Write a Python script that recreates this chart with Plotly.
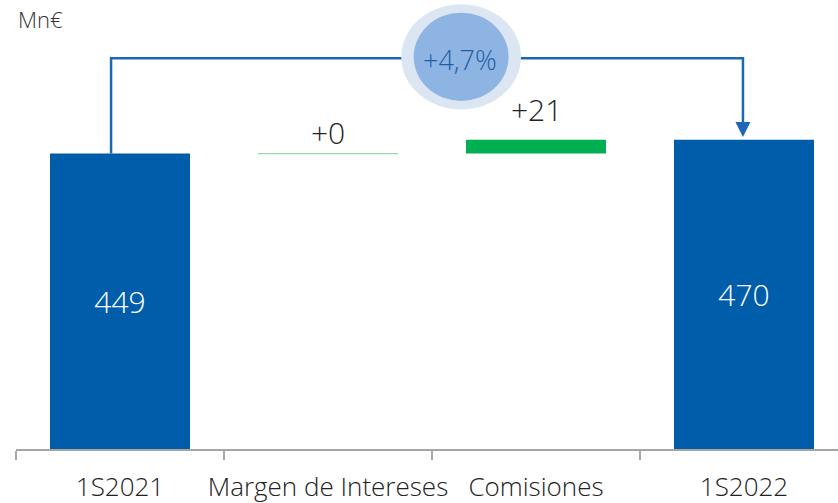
import plotly.graph_objects as go

# -----------------------------
# Data
# -----------------------------

CATEGORIES = ["1S2021", "Margen de Intereses", "Comisiones", "1S2022"]
VALUES = [449, 0, 21, 470]
BASES = [0, 449, 449, 0]
LABELS = ["449", "+0", "+21", "470"]
GROWTH_LABEL = "+4,7%"

# -----------------------------
# Theme
# -----------------------------

BLUE = "#005DAA"
LINE_BLUE = "#1D67B5"
GREEN = "#00B050"
LIGHT_GREEN = "#96D9B0"
TEXT = "#222222"
AXIS_GREY = "#A6A6A6"
FONT = "Open Sans"

PX_PER_UNIT = 0.658
PLOT_H = 449
Y_MAX = PLOT_H / PX_PER_UNIT
CAT_PX = 208
PLOT_L = 16

bar_colors = [BLUE, LIGHT_GREEN, GREEN, BLUE]

fig = go.Figure()

fig.add_trace(
    go.Bar(
        x=CATEGORIES,
        y=VALUES,
        base=BASES,
        marker=dict(color=bar_colors, line=dict(color=bar_colors, width=[0, 1.2, 0, 0])),
        text=[LABELS[0], "", "", LABELS[3]],
        textposition="inside",
        insidetextanchor="middle",
        textfont=dict(family=FONT, size=30, color="white", weight=300),
        hoverinfo="skip",
    )
)

# labels above the variation bars
for i in (1, 2):
    top = BASES[i] + VALUES[i]
    fig.add_annotation(
        x=i, y=top, text=LABELS[i], showarrow=False,
        yanchor="bottom", yshift=-1 if i == 1 else 8,
        font=dict(family=FONT, size=30, color=TEXT, weight=300),
    )

# connector from first to last bar
level = 594
x_start, x_end = -0.043, 2.995
arrow_tip = VALUES[3] + 4
head_len = 23
head_w = 0.036
fig.add_shape(
    type="path",
    path=(f"M {x_start},{VALUES[0] + BASES[0]} L {x_start},{level} "
          f"L {x_end},{level} L {x_end},{arrow_tip + head_len}"),
    line=dict(color=LINE_BLUE, width=2.5),
    xref="x", yref="y", layer="above",
)
fig.add_shape(
    type="path",
    path=(f"M {x_end - head_w},{arrow_tip + head_len} L {x_end + head_w},{arrow_tip + head_len} "
          f"L {x_end},{arrow_tip} Z"),
    line=dict(width=0), fillcolor=LINE_BLUE,
    xref="x", yref="y", layer="above",
)

# growth bubble
cx, cy = 1.64, 596
fig.add_shape(
    type="circle", x0=cx - 0.288, x1=cx + 0.288, y0=cy - 80, y1=cy + 80,
    fillcolor="#DCE6F2", line=dict(width=0), xref="x", yref="y", layer="above",
)
fig.add_shape(
    type="circle", x0=cx - 0.228, x1=cx + 0.228, y0=cy - 67, y1=cy + 67,
    fillcolor="#8EB4E3", line=dict(width=0), xref="x", yref="y", layer="above",
)
fig.add_annotation(
    x=cx - 0.005, y=cy - 4, text=GROWTH_LABEL, showarrow=False,
    font=dict(family=FONT, size=27, color="#1F5FA8", weight=300),
)

# units
fig.add_annotation(
    xref="paper", yref="paper", x=0.0, y=1.0, xanchor="left", yanchor="top",
    yshift=-2, text="Mn€", showarrow=False,
    font=dict(family=FONT, size=22, color="#333333", weight=300),
)

fig.update_layout(
    width=838,
    height=503,
    paper_bgcolor="white",
    plot_bgcolor="white",
    showlegend=False,
    bargap=0.327,
    margin=dict(l=PLOT_L, r=0, t=0, b=503 - PLOT_H, autoexpand=False),
    font=dict(family=FONT, color=TEXT),
    xaxis=dict(
        type="category",
        range=[-0.5, -0.5 + (838 - PLOT_L) / CAT_PX],
        automargin=False,
        showline=True, linecolor=AXIS_GREY, linewidth=1.5,
        ticks="outside", tickson="boundaries", ticklen=9,
        tickcolor=AXIS_GREY, tickwidth=1.5, tickangle=0,
        tickfont=dict(family=FONT, size=26, color=TEXT, weight=300),
        ticklabelstandoff=14,
        showgrid=False, zeroline=False,
    ),
    yaxis=dict(
        range=[0, Y_MAX], visible=False, showgrid=False, zeroline=False,
        automargin=False,
    ),
)

# page has a default 8px body margin; drop it so the figure sits at 0,0
fig.write_html(
    "out.html",
    config=dict(displayModeBar=False),
    post_script="document.body.style.margin='0';",
)
